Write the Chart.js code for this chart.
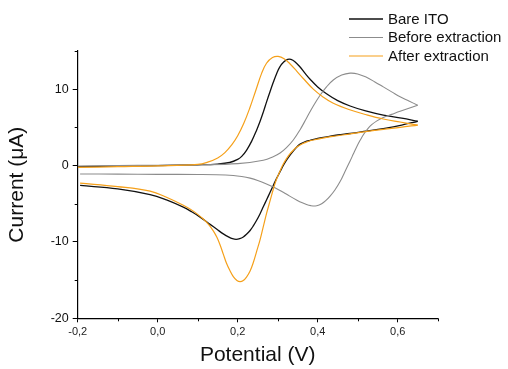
<!DOCTYPE html>
<html><head><meta charset="utf-8">
<script src="https://cdn.jsdelivr.net/npm/chart.js@4.4.0/dist/chart.umd.min.js"></script>
<style>html,body{margin:0;padding:0;background:#fff;} canvas{display:block;}</style>
</head><body>
<canvas id="c" width="508" height="369"></canvas>
<script>
const seriesNames = ['Bare ITO', 'Before extraction', 'After extraction'];

// each loop: forward scan to 0.65 V, then reverse scan back to -0.2 V
const bareX = [-0.2, -0.1, 0.0, 0.1, 0.15, 0.18, 0.2, 0.21, 0.222, 0.235, 0.247, 0.256, 0.264, 0.272, 0.281, 0.289, 0.297, 0.305, 0.315, 0.325, 0.333, 0.343, 0.356, 0.368, 0.381, 0.4, 0.422, 0.45, 0.481, 0.52, 0.564, 0.61, 0.65,
               0.61, 0.564, 0.52, 0.481, 0.45, 0.422, 0.4, 0.381, 0.368, 0.356, 0.347, 0.339, 0.33, 0.322, 0.314, 0.306, 0.297, 0.289, 0.281, 0.272, 0.264, 0.256, 0.247, 0.239, 0.231, 0.222, 0.214, 0.205, 0.196, 0.187, 0.178, 0.164, 0.148, 0.131, 0.106, 0.085, 0.064, 0.022, -0.019, -0.1, -0.194];
const bareY = [-0.15, -0.08, 0.0, 0.1, 0.2, 0.4, 0.8, 1.2, 2.0, 3.2, 4.6, 5.8, 7.0, 8.3, 9.7, 10.9, 12.0, 12.9, 13.55, 13.9, 13.9, 13.6, 12.9, 12.1, 11.3, 10.3, 9.4, 8.5, 7.8, 7.15, 6.6, 6.2, 5.8,
               5.3, 4.85, 4.5, 4.2, 4.0, 3.75, 3.55, 3.3, 3.1, 2.8, 2.4, 1.9, 1.3, 0.7, 0.0, -0.8, -1.7, -2.6, -3.5, -4.5, -5.4, -6.3, -7.2, -7.9, -8.5, -9.0, -9.35, -9.58, -9.66, -9.58, -9.38, -8.95, -8.35, -7.7, -6.75, -6.05, -5.45, -4.5, -3.8, -3.05, -2.6];

const beforeX = [-0.2, -0.1, 0.0, 0.1, 0.2, 0.264, 0.29, 0.306, 0.322, 0.339, 0.356, 0.372, 0.389, 0.406, 0.422, 0.439, 0.46, 0.481, 0.5, 0.522, 0.543, 0.564, 0.585, 0.606, 0.628, 0.65,
                 0.628, 0.606, 0.585, 0.564, 0.548, 0.535, 0.525, 0.515, 0.506, 0.497, 0.489, 0.481, 0.468, 0.456, 0.443, 0.431, 0.42, 0.41, 0.402, 0.394, 0.383, 0.372, 0.36, 0.347, 0.33, 0.314, 0.293, 0.272, 0.25, 0.231, 0.21, 0.189, 0.147, 0.1, 0.0, -0.1, -0.194];
const beforeY = [-0.05, 0.0, 0.05, 0.1, 0.25, 0.7, 1.2, 1.65, 2.35, 3.35, 4.7, 6.2, 7.8, 9.2, 10.3, 11.2, 11.85, 12.1, 12.0, 11.55, 10.95, 10.3, 9.65, 9.0, 8.45, 7.9,
                 7.5, 7.1, 6.7, 6.3, 5.85, 5.35, 4.8, 4.1, 3.3, 2.4, 1.5, 0.6, -0.8, -2.1, -3.2, -4.0, -4.6, -5.0, -5.2, -5.3, -5.25, -5.1, -4.85, -4.5, -4.0, -3.5, -2.9, -2.4, -1.95, -1.65, -1.43, -1.3, -1.2, -1.17, -1.15, -1.12, -1.1];

const afterX = [-0.2, -0.1, 0.0, 0.1, 0.125, 0.15, 0.168, 0.185, 0.2, 0.215, 0.23, 0.245, 0.26, 0.272, 0.287, 0.301, 0.316, 0.331, 0.347, 0.364, 0.389, 0.414, 0.439, 0.48, 0.522, 0.564, 0.606, 0.65,
                0.606, 0.564, 0.52, 0.481, 0.45, 0.422, 0.4, 0.381, 0.368, 0.356, 0.347, 0.339, 0.33, 0.322, 0.314, 0.306, 0.297, 0.289, 0.281, 0.272, 0.264, 0.256, 0.247, 0.239, 0.231, 0.222, 0.214, 0.206, 0.198, 0.189, 0.181, 0.172, 0.164, 0.156, 0.148, 0.139, 0.127, 0.114, 0.09, 0.064, 0.022, -0.019, -0.1, -0.194];
const afterY = [-0.25, -0.15, -0.05, 0.15, 0.45, 1.0, 1.7, 2.7, 3.9, 5.5, 7.5, 9.8, 12.1, 13.4, 14.15, 14.3, 14.0, 13.3, 12.4, 11.4, 10.0, 8.95, 8.15, 7.3, 6.65, 6.1, 5.7, 5.3,
                5.0, 4.75, 4.45, 4.15, 3.9, 3.7, 3.45, 3.25, 3.0, 2.7, 2.4, 2.0, 1.5, 0.9, 0.2, -0.7, -1.8, -3.1, -4.6, -6.3, -8.0, -9.7, -11.3, -12.7, -13.8, -14.6, -15.05, -15.2, -15.05, -14.55, -13.8, -12.8, -11.6, -10.4, -9.4, -8.55, -7.7, -7.0, -6.0, -5.2, -4.15, -3.35, -2.75, -2.3];

const xTicks = [-0.2, 0.0, 0.2, 0.4, 0.6];
const xMinorTicks = [-0.1, 0.1, 0.3, 0.5, 0.7];
const yTicks = [-20, -10, 0, 10];
const yMinorTicks = [-15, -5, 5, 15];

const FONT = '"Liberation Sans", Arial, sans-serif';
function pts(xs, ys, a, b) {
  const out = [];
  for (let i = a; i <= b; i++) out.push({ x: xs[i], y: ys[i] });
  return out;
}

const colors = ['#111111', '#8c8c8c', '#f5a01a'];
const widths = [1.3, 1.1, 1.2];
const xsAll = [bareX, beforeX, afterX];
const ysAll = [bareY, beforeY, afterY];

const datasets = [];
seriesNames.forEach((name, i) => {
  const xs = xsAll[i], ys = ysAll[i];
  let k = 0;
  xs.forEach((v, j) => { if (v > xs[k]) k = j; });
  const common = {
    showLine: true, borderColor: colors[i], backgroundColor: colors[i], borderWidth: widths[i],
    pointRadius: 0, tension: 0.4, fill: false, order: 3 - i
  };
  datasets.push(Object.assign({ label: name, data: pts(xs, ys, 0, k), legend: true }, common));
  datasets.push(Object.assign({ label: name, data: pts(xs, ys, k, xs.length - 1), legend: false }, common));
});

const legendPlugin = {
  id: 'cvLegend',
  afterDraw(chart) {
    const ctx = chart.ctx;
    ctx.save();
    ctx.font = '15px ' + FONT;
    ctx.textBaseline = 'middle';
    ctx.textAlign = 'left';
    chart.data.datasets.filter(d => d.legend).forEach((ds, i) => {
      const y = 19 + i * 18.5;
      ctx.strokeStyle = ds.borderColor;
      ctx.lineWidth = ds.borderWidth;
      ctx.beginPath(); ctx.moveTo(349, y); ctx.lineTo(383, y); ctx.stroke();
      ctx.fillStyle = '#111';
      ctx.fillText(ds.label, 388, y + 0.5);
    });
    ctx.restore();
  }
};

const minorTickPlugin = {
  id: 'minorTicks',
  afterDraw(chart) {
    const xs = chart.scales.x, ys = chart.scales.y, ca = chart.chartArea, ctx = chart.ctx;
    ctx.save();
    ctx.strokeStyle = '#000'; ctx.lineWidth = 1;
    xMinorTicks.forEach(v => {
      const px = Math.round(xs.getPixelForValue(v)) + 0.5;
      ctx.beginPath(); ctx.moveTo(px, ca.bottom); ctx.lineTo(px, ca.bottom + 3); ctx.stroke();
    });
    yMinorTicks.forEach(v => {
      const py = Math.round(ys.getPixelForValue(v)) + 0.5;
      ctx.beginPath(); ctx.moveTo(ca.left, py); ctx.lineTo(ca.left - 3, py); ctx.stroke();
    });
    ctx.restore();
  }
};

new Chart(document.getElementById('c'), {
  type: 'scatter',
  data: { datasets: datasets },
  options: {
    responsive: false,
    animation: false,
    devicePixelRatio: 1,
    layout: { padding: { top: 51, right: 70.3, left: 0, bottom: 0 } },
    plugins: { legend: { display: false }, tooltip: { enabled: false } },
    scales: {
      x: {
        type: 'linear', min: -0.2, max: 0.7,
        afterBuildTicks: s => { s.ticks = xTicks.map(v => ({ value: v })); },
        afterFit: s => { s.height = 50.7; },
        border: { display: true, color: '#000', width: 1.2 },
        grid: { display: true, drawOnChartArea: false, drawTicks: true, tickLength: 4, color: '#000', tickWidth: 1 },
        ticks: {
          font: { family: FONT, size: 11 }, color: '#222', padding: 3, maxRotation: 0, autoSkip: false,
          callback: v => v.toFixed(1).replace('.', ',')
        },
        title: { display: true, text: 'Potential (V)', font: { family: FONT, size: 21 }, color: '#111', padding: { top: 0, bottom: 1 } }
      },
      y: {
        type: 'linear', min: -20, max: 15,
        afterBuildTicks: s => { s.ticks = yTicks.map(v => ({ value: v })); },
        afterFit: s => { s.width = 77.7; },
        border: { display: true, color: '#000', width: 1.2 },
        grid: { display: true, drawOnChartArea: false, drawTicks: true, tickLength: 5, color: '#000', tickWidth: 1 },
        ticks: { font: { family: FONT, size: 12.5 }, color: '#111', padding: 4, autoSkip: false, callback: v => String(v) },
        title: { display: true, text: 'Current (μA)', font: { family: FONT, size: 21 }, color: '#111', padding: { top: 5, bottom: 0 } }
      }
    }
  },
  plugins: [legendPlugin, minorTickPlugin]
});
</script>
</body></html>
